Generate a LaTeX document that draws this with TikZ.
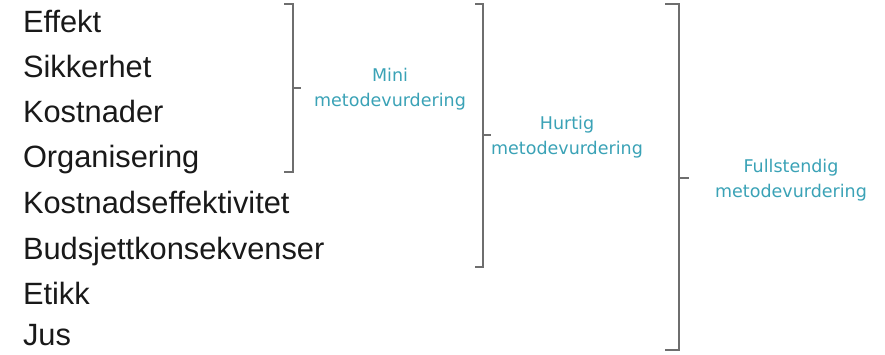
\documentclass[tikz,border=0pt]{standalone}
\usepackage{fontspec}
\setmainfont{Liberation Sans}
\newfontfamily\labfont{DejaVu Sans}
\definecolor{labteal}{RGB}{58,162,182}
\definecolor{brgray}{RGB}{110,110,110}

\begin{document}
\begin{tikzpicture}[x=1pt,y=-1pt,inner sep=0pt,outer sep=0pt,
item/.style={anchor=base west,text=black!90,font=\fontsize{30.8}{36}\selectfont},
bracket/.style={draw=brgray,line width=1.1pt},
methlabel/.style={align=center,text=labteal,font=\labfont\fontsize{17.5}{25}\selectfont}]
\useasboundingbox (0,0) rectangle (885,355);

\node[item] (effekt) at (23,33) {Effekt};
\node[item] (sikk) at (23,78) {Sikkerhet};
\node[item] (kost) at (23,123) {Kostnader};
\node[item] (org) at (23,168) {Organisering};
\node[item] (kosteff) at (23,214) {Kostnadseffektivitet};
\node[item] (budsj) at (23,259) {Budsjettkonsekvenser};
\node[item] (etikk) at (23,304) {Etikk};
\node[item] (jus) at (23,345) {Jus};

% mini
\draw[bracket] (284,4) -- (293,4) -- (293,172) -- (284,172);
\draw[bracket] (293,88) -- ++(8,0) coordinate (mtip);
\node[methlabel] (mini) at (390,89) {Mini\\metodevurdering};

% hurtig
\draw[bracket] (475,4) -- (483,4) -- (483,267) -- (475,267);
\draw[bracket] (483,135) -- ++(8,0) coordinate (htip);
\node[methlabel] (hurtig) at (567,137) {Hurtig\\metodevurdering};

% fullstendig
\draw[bracket] (665,4) -- (679,4) -- (679,350) -- (665,350);
\draw[bracket] (679,178) -- ++(10,0) coordinate (ftip);
\node[methlabel] (full) at (791,180) {Fullstendig\\metodevurdering};
\end{tikzpicture}
\end{document}
